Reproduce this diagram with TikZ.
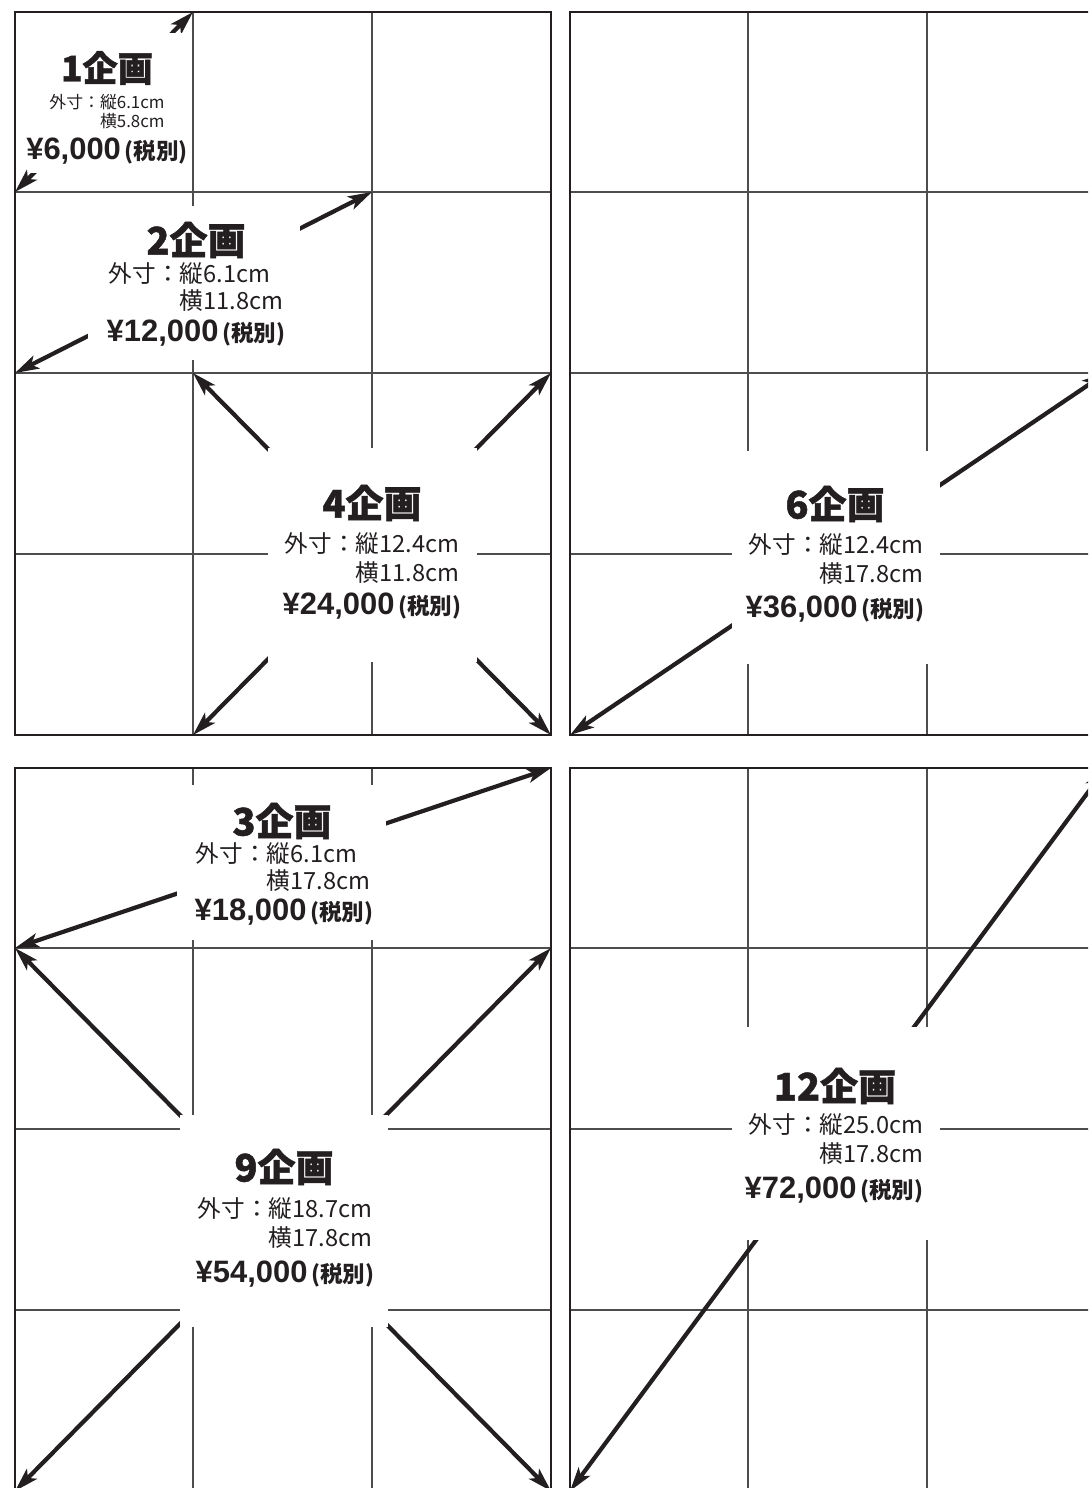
\documentclass[tikz,border=0pt]{standalone}
\usepackage{fontspec}
\setmainfont{Liberation Sans}
\newfontfamily\jpfont{Noto Sans CJK JP}
\newfontfamily\jpheavy{Noto Sans CJK JP}[BoldFeatures={FakeBold=1.2}]
\usetikzlibrary{arrows.meta}
\definecolor{ink}{HTML}{231F20}
\definecolor{rule}{HTML}{4D4D4D}
\tikzset{
x=0.025cm, y=-0.025cm, % one unit is one pixel of the layout, y runs downwards
>={Stealth[length=17pt, width=10pt, inset=4pt]}, % slim barbed heads
frame/.style={draw=ink, line width=1.5pt}, % outer border of a page
ruling/.style={draw=rule, line width=0.8pt}, % thin grid of the page
size arrow/.style={<->, draw=ink, line width=3pt}, % corner to corner of a plan
blank/.style={fill=white}, % white patch behind the texts
}
% #1 name, #2 left, #3 top: coordinates (#1-i-j) on the grid lines
\newcommand\planpage[3]{%
  \foreach \dx [count=\i from 0] in {0,178,357,536}
    \foreach \dy [count=\j from 0] in {0,180,361,542,723}
      \coordinate (#1-\i-\j) at (#2+\dx,#3+\dy);
  \foreach \i in {1,2} \draw[ruling] (#1-\i-0) -- (#1-\i-4);
  \foreach \j in {1,2,3} \draw[ruling] (#1-0-\j) -- (#1-3-\j);
  \draw[frame] (#1-0-0) rectangle (#1-3-4);
}
\newcommand\tax{{\jpfont\fontsize{16pt}{16pt}\selectfont\,(税別)}}
\newcommand\dimtab[2]{外寸：\begin{tabular}[t]{@{}l@{}}縦#1\\横#2\end{tabular}}

\begin{document}
\begin{tikzpicture}[
  every node/.style={inner sep=0pt, text=ink},
  title/.style={font=\jpheavy\bfseries\fontsize{27pt}{27pt}\selectfont},
  small title/.style={font=\jpheavy\bfseries\fontsize{25pt}{25pt}\selectfont},
  dims/.style={font=\jpfont\fontsize{16.8pt}{#1}\selectfont},
  dims/.default=20.8pt,
  small dims/.style={font=\jpfont\fontsize{12pt}{12.2pt}\selectfont},
  price/.style={font=\bfseries\fontsize{22pt}{22pt}\selectfont}
]
  \useasboundingbox (0,0) rectangle (1088,1488);
  \clip (0,0) rectangle (1088,1488);

  \planpage{L}{15}{12}
  \planpage{R}{570}{12}
  \planpage{BL}{15}{768}
  \planpage{BR}{570}{768}

  % arrows
  \draw[size arrow] (L-0-1) -- (L-1-0);
  \draw[size arrow] (L-0-2) -- (L-2-1);
  \draw[size arrow] (L-1-2) -- (L-3-4);
  \draw[size arrow] (L-3-2) -- (L-1-4);
  \draw[size arrow] (R-0-4) -- (R-3-2);
  \draw[size arrow] (BL-0-1) -- (BL-3-0);
  \draw[size arrow] (BL-0-1) -- (BL-3-4);
  \draw[size arrow] (BL-3-1) -- (BL-0-4);
  \draw[size arrow] (BR-0-4) -- (BR-3-0);

  % white patches
  \path[blank] (30,33) rectangle (186,173);
  \path[blank] (88,206) rectangle (300,360);
  \path[blank] (268,448) rectangle (477,662);
  \path[blank] (732,451) rectangle (940,664);
  \path[blank] (177,785) rectangle (386,940);
  \path[blank] (180,1115) rectangle (388,1327);
  \path[blank] (732,1027) rectangle (940,1240);

  % 1
  \node[small title] (t1) at (107,68) {1企画};
  \node[small dims] (d1) at (107,113.5) {\dimtab{6.1cm}{5.8cm}};
  \node[price] (p1) at (107,151) {¥6,000\tax};
  % 2
  \node[title] (t2) at (196,240) {2企画};
  \node[dims=18.5pt] (d2) at (196,290) {\dimtab{6.1cm}{11.8cm}};
  \node[price] (p2) at (196,333) {¥12,000\tax};
  % 4
  \node[title] (t4) at (372,503) {4企画};
  \node[dims] (d4) at (372,561.5) {\dimtab{12.4cm}{11.8cm}};
  \node[price] (p4) at (372,606) {¥24,000\tax};
  % 6
  \node[title] (t6) at (835,504) {6企画};
  \node[dims] (d6) at (836,562) {\dimtab{12.4cm}{17.8cm}};
  \node[price] (p6) at (835,609) {¥36,000\tax};
  % 3
  \node[title] (t3) at (282,821) {3企画};
  \node[dims=17pt] (d3) at (283,870) {\dimtab{6.1cm}{17.8cm}};
  \node[price] (p3) at (284,912) {¥18,000\tax};
  % 9
  \node[title] (t9) at (284,1167) {9企画};
  \node[dims] (d9) at (285,1226) {\dimtab{18.7cm}{17.8cm}};
  \node[price] (p9) at (285,1274) {¥54,000\tax};
  % 12
  \node[title] (t12) at (835,1086) {12企画};
  \node[dims] (d12) at (836,1142) {\dimtab{25.0cm}{17.8cm}};
  \node[price] (p12) at (834,1190) {¥72,000\tax};
\end{tikzpicture}
\end{document}
